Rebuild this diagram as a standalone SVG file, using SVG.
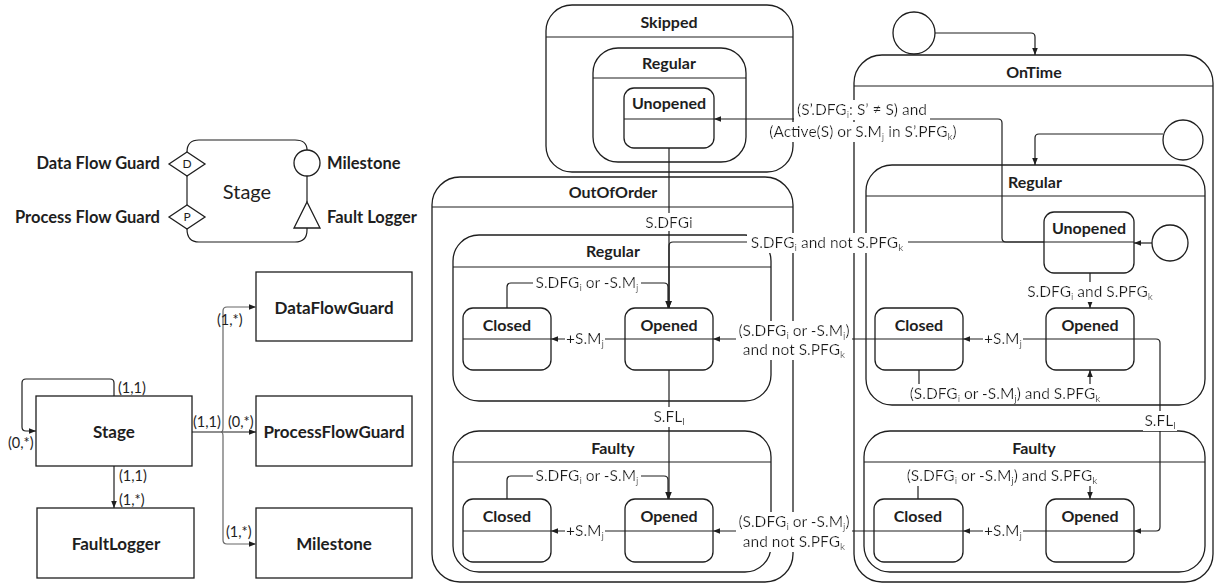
<svg xmlns="http://www.w3.org/2000/svg" width="1217" height="585" viewBox="0 0 1217 585">
  <style>
    .box { fill: #fff; stroke: #1e1e1e; stroke-width: 1.3; }
    .div { fill: none; stroke: #1e1e1e; stroke-width: 1.2; }
    .conn { fill: none; stroke: #1e1e1e; stroke-width: 1.2; }
    .gray { stroke: #666; }
    text { font-family: Lato, "Liberation Sans", sans-serif; fill: #1e1e1e; }
    .ttl { font-weight: bold; font-size: 16px; text-anchor: middle; }
    .cls { font-weight: bold; font-size: 17px; text-anchor: middle; }
    .lbl { font-size: 15.5px; text-anchor: middle; }
    .card { font-size: 14.5px; }
    .leg { font-weight: bold; font-size: 16.5px; }
    .sub { font-size: 10px; }
    .bgl { filter: url(#bg); }
  </style>
  <defs>
    <marker id="arr" viewBox="0 0 10 10" refX="10" refY="5" markerWidth="7" markerHeight="7" markerUnits="userSpaceOnUse" orient="auto">
      <path d="M0,1 L10,5 L0,9 z" fill="#1e1e1e"/>
    </marker>
    <filter id="bg" x="-0.02" y="0" width="1.04" height="1">
      <feFlood flood-color="#fff" result="f"/>
      <feComposite in="SourceGraphic" in2="f" operator="over"/>
    </filter>
  </defs>
  <rect width="1217" height="585" fill="#fff"/>

  <!-- Legend: stage symbol with guards, milestone and fault logger -->
  <g id="legend">
    <path class="div" d="M187,152 Q187,140 199,140 H295 Q307,140 307,150 M307,176 V202 M307,228 V230 Q307,242 295,242 H199 Q187,242 187,229 M187,176 V205"/>
    <polygon class="box" points="169,164 187,152 205,164 187,176"/>
    <text x="187" y="168" font-size="12" text-anchor="middle">D</text>
    <polygon class="box" points="169,217 187,205 205,217 187,229"/>
    <text x="187" y="221" font-size="12" text-anchor="middle">P</text>
    <circle class="box" cx="307" cy="163" r="13"/>
    <polygon class="box" points="307,202 320,228 294,228"/>
    <text x="247" y="199" font-size="20" text-anchor="middle">Stage</text>
    <text class="leg" x="160" y="169" text-anchor="end">Data Flow Guard</text>
    <text class="leg" x="160" y="223" text-anchor="end">Process Flow Guard</text>
    <text class="leg" x="327" y="169">Milestone</text>
    <text class="leg" x="327" y="223">Fault Logger</text>
  </g>

  <!-- Class model -->
  <g id="cls-stage"><rect class="box" x="36" y="396" width="156" height="70"/><text class="cls" x="114" y="438">Stage</text></g>
  <g id="cls-dfg"><rect class="box" x="256" y="272" width="156" height="69"/><text class="cls" x="334" y="314">DataFlowGuard</text></g>
  <g id="cls-pfg"><rect class="box" x="256" y="396" width="156" height="70"/><text class="cls" x="334" y="438">ProcessFlowGuard</text></g>
  <g id="cls-ms"><rect class="box" x="256" y="508" width="156" height="70"/><text class="cls" x="334" y="550">Milestone</text></g>
  <g id="cls-fl"><rect class="box" x="37" y="508" width="157" height="70"/><text class="cls" x="116" y="550">FaultLogger</text></g>

  <g id="cls-links">
    <path class="conn" d="M114,396 V383 Q114,379 110,379 H26 Q22,379 22,383 V427 Q22,431 26,431 H36" marker-end="url(#arr)"/>
    <path class="conn" d="M114,466 V508" marker-end="url(#arr)"/>
    <path class="conn" d="M192,432 H256" marker-end="url(#arr)"/>
    <path class="conn gray" d="M221,432 Q223,432 223,428 V311 Q223,307 227,307 H256" marker-end="url(#arr)"/>
    <path class="conn gray" d="M221,432 Q223,432 223,436 V540 Q223,544 227,544 H256" marker-end="url(#arr)"/>
    <text class="card" x="118" y="393">(1,1)</text>
    <text class="card" x="8" y="448">(0,*)</text>
    <text class="card" x="119" y="481">(1,1)</text>
    <text class="card" x="119" y="505">(1,*)</text>
    <text class="card" x="193" y="427">(1,1)</text>
    <text class="card" x="228" y="427">(0,*)</text>
    <text class="card" x="217" y="325">(1,*)</text>
    <text class="card" x="226" y="537">(1,*)</text>
  </g>

  <!-- Skipped -->
  <g id="skipped">
    <rect class="box" x="546" y="5" width="247" height="167" rx="26"/>
    <line class="div" x1="546" y1="37" x2="793" y2="37"/>
    <text class="ttl" x="669" y="28">Skipped</text>
  </g>
  <g id="skipped-regular">
    <rect class="box" x="593" y="48" width="153" height="114" rx="25"/>
    <line class="div" x1="593" y1="78" x2="746" y2="78"/>
    <text class="ttl" x="669" y="69">Regular</text>
  </g>
  <g id="skipped-unopened">
    <rect class="box" x="624" y="88" width="90" height="60" rx="10"/>
    <line class="div" x1="624" y1="119" x2="714" y2="119"/>
    <text class="ttl" x="669" y="109">Unopened</text>
  </g>

  <!-- OutOfOrder -->
  <g id="ooo">
    <rect class="box" x="432" y="177" width="361" height="405" rx="28"/>
    <line class="div" x1="432" y1="207" x2="793" y2="207"/>
    <text class="ttl" x="613" y="198">OutOfOrder</text>
  </g>
  <g id="ooo-regular">
    <rect class="box" x="453" y="235" width="318" height="166" rx="26"/>
    <line class="div" x1="453" y1="267" x2="771" y2="267"/>
    <text class="ttl" x="613" y="257">Regular</text>
  </g>
  <g id="ooo-regular-closed">
    <rect class="box" x="463" y="308" width="88" height="62" rx="10"/>
    <line class="div" x1="463" y1="339" x2="551" y2="339"/>
    <text class="ttl" x="507" y="331">Closed</text>
  </g>
  <g id="ooo-regular-opened">
    <rect class="box" x="625" y="308" width="88" height="62" rx="10"/>
    <line class="div" x1="625" y1="339" x2="713" y2="339"/>
    <text class="ttl" x="669" y="331">Opened</text>
  </g>
  <g id="ooo-faulty">
    <rect class="box" x="453" y="431" width="318" height="141" rx="26"/>
    <line class="div" x1="453" y1="462" x2="771" y2="462"/>
    <text class="ttl" x="613" y="454">Faulty</text>
  </g>
  <g id="ooo-faulty-closed">
    <rect class="box" x="463" y="499" width="88" height="63" rx="10"/>
    <line class="div" x1="463" y1="531" x2="551" y2="531"/>
    <text class="ttl" x="507" y="522">Closed</text>
  </g>
  <g id="ooo-faulty-opened">
    <rect class="box" x="625" y="499" width="88" height="63" rx="10"/>
    <line class="div" x1="625" y1="531" x2="713" y2="531"/>
    <text class="ttl" x="669" y="522">Opened</text>
  </g>

  <!-- OnTime -->
  <g id="init-top"><circle class="box" cx="914" cy="33" r="21"/></g>
  <g id="ontime">
    <rect class="box" x="854" y="55" width="359" height="527" rx="28"/>
    <line class="div" x1="854" y1="86" x2="1213" y2="86"/>
    <text class="ttl" x="1034" y="78">OnTime</text>
  </g>
  <g id="init-ontime"><circle class="box" cx="1183" cy="140" r="20"/></g>
  <g id="ontime-regular">
    <rect class="box" x="866" y="165" width="339" height="240" rx="26"/>
    <line class="div" x1="866" y1="196" x2="1205" y2="196"/>
    <text class="ttl" x="1035" y="188">Regular</text>
  </g>
  <g id="ontime-unopened">
    <rect class="box" x="1044" y="212" width="90" height="61" rx="10"/>
    <line class="div" x1="1044" y1="242" x2="1134" y2="242"/>
    <text class="ttl" x="1089" y="234">Unopened</text>
  </g>
  <g id="init-regular"><circle class="box" cx="1170" cy="243" r="18"/></g>
  <g id="ontime-regular-closed">
    <rect class="box" x="875" y="308" width="88" height="62" rx="10"/>
    <line class="div" x1="875" y1="339" x2="963" y2="339"/>
    <text class="ttl" x="919" y="331">Closed</text>
  </g>
  <g id="ontime-regular-opened">
    <rect class="box" x="1046" y="308" width="88" height="62" rx="10"/>
    <line class="div" x1="1046" y1="339" x2="1134" y2="339"/>
    <text class="ttl" x="1090" y="331">Opened</text>
  </g>
  <g id="ontime-faulty">
    <rect class="box" x="864" y="431" width="341" height="141" rx="26"/>
    <line class="div" x1="864" y1="462" x2="1205" y2="462"/>
    <text class="ttl" x="1034" y="454">Faulty</text>
  </g>
  <g id="ontime-faulty-closed">
    <rect class="box" x="874" y="499" width="89" height="63" rx="10"/>
    <line class="div" x1="874" y1="531" x2="963" y2="531"/>
    <text class="ttl" x="918" y="522">Closed</text>
  </g>
  <g id="ontime-faulty-opened">
    <rect class="box" x="1046" y="499" width="88" height="63" rx="10"/>
    <line class="div" x1="1046" y1="531" x2="1134" y2="531"/>
    <text class="ttl" x="1090" y="522">Opened</text>
  </g>

  <!-- Transitions -->
  <g id="connectors">
    <path class="conn" d="M935,33 H1031 Q1035,33 1035,37 V55" marker-end="url(#arr)"/>
    <path class="conn" d="M1163,134 H1039 Q1035,134 1035,138 V165" marker-end="url(#arr)"/>
    <path class="conn" d="M1152,243 H1134" marker-end="url(#arr)"/>
    <path class="conn" d="M1044,242 H1006 Q1002,242 1002,238 V123 Q1002,119 998,119 H714" marker-end="url(#arr)"/>
    <path class="conn" d="M1044,242 H673 Q669,242 669,246 V308" marker-end="url(#arr)"/>
    <path class="conn" d="M669,148 V308" marker-end="url(#arr)"/>
    <path class="conn" d="M1090,273 V308" marker-end="url(#arr)"/>
    <path class="conn" d="M1046,339 H963" marker-end="url(#arr)"/>
    <path class="conn" d="M919,370 V390 Q919,394 923,394 H1086 Q1090,394 1090,390 V370" marker-end="url(#arr)"/>
    <path class="conn" d="M1134,339 H1156 Q1160,339 1160,343 V527 Q1160,531 1156,531 H1134" marker-end="url(#arr)"/>
    <path class="conn" d="M875,339 H713" marker-end="url(#arr)"/>
    <path class="conn" d="M1046,531 H963" marker-end="url(#arr)"/>
    <path class="conn" d="M918,499 V480 Q918,476 922,476 H1086 Q1090,476 1090,480 V499" marker-end="url(#arr)"/>
    <path class="conn" d="M874,531 H713" marker-end="url(#arr)"/>
    <path class="conn" d="M507,308 V287 Q507,283 511,283 H664 Q668,283 668,287 V308" marker-end="url(#arr)"/>
    <path class="conn" d="M625,339 H551" marker-end="url(#arr)"/>
    <path class="conn" d="M669,370 V499" marker-end="url(#arr)"/>
    <path class="conn" d="M507,499 V480 Q507,476 511,476 H664 Q668,476 668,480 V499" marker-end="url(#arr)"/>
    <path class="conn" d="M625,531 H551" marker-end="url(#arr)"/>
  </g>

  <!-- Transition labels -->
  <g id="labels">
    <text class="lbl bgl" x="862" y="115">(S’.DFG<tspan class="sub" dy="3">i</tspan><tspan dy="-3">: S’ ≠ S) and</tspan></text>
    <text class="lbl bgl" x="863" y="137">(Active(S) or S.M<tspan class="sub" dy="3">j</tspan><tspan dy="-3"> in S’.PFG</tspan><tspan class="sub" dy="3">k</tspan><tspan dy="-3">)</tspan></text>
    <text class="lbl bgl" x="669" y="228">S.DFGi</text>
    <text class="lbl bgl" x="827" y="248">S.DFG<tspan class="sub" dy="3">i</tspan><tspan dy="-3"> and not S.PFG</tspan><tspan class="sub" dy="3">k</tspan></text>
    <text class="lbl bgl" x="587" y="288">S.DFG<tspan class="sub" dy="3">i</tspan><tspan dy="-3"> or -S.M</tspan><tspan class="sub" dy="3">j</tspan></text>
    <text class="lbl bgl" x="585" y="344">+S.M<tspan class="sub" dy="3">j</tspan></text>
    <text class="lbl bgl" x="669" y="422">S.FL<tspan class="sub" dy="3">l</tspan></text>
    <text class="lbl bgl" x="587" y="481">S.DFG<tspan class="sub" dy="3">i</tspan><tspan dy="-3"> or -S.M</tspan><tspan class="sub" dy="3">j</tspan></text>
    <text class="lbl bgl" x="585" y="536">+S.M<tspan class="sub" dy="3">j</tspan></text>
    <text class="lbl bgl" x="794" y="336">(S.DFG<tspan class="sub" dy="3">i</tspan><tspan dy="-3"> or -S.M</tspan><tspan class="sub" dy="3">j</tspan><tspan dy="-3">)</tspan></text>
    <text class="lbl bgl" x="794" y="355">and not S.PFG<tspan class="sub" dy="3">k</tspan></text>
    <text class="lbl bgl" x="794" y="527">(S.DFG<tspan class="sub" dy="3">i</tspan><tspan dy="-3"> or -S.M</tspan><tspan class="sub" dy="3">j</tspan><tspan dy="-3">)</tspan></text>
    <text class="lbl bgl" x="794" y="547">and not S.PFG<tspan class="sub" dy="3">k</tspan></text>
    <text class="lbl bgl" x="1090" y="297">S.DFG<tspan class="sub" dy="3">i</tspan><tspan dy="-3"> and S.PFG</tspan><tspan class="sub" dy="3">k</tspan></text>
    <text class="lbl bgl" x="1003" y="344">+S.M<tspan class="sub" dy="3">j</tspan></text>
    <text class="lbl bgl" x="1005" y="399">(S.DFG<tspan class="sub" dy="3">i</tspan><tspan dy="-3"> or -S.M</tspan><tspan class="sub" dy="3">j</tspan><tspan dy="-3">) and S.PFG</tspan><tspan class="sub" dy="3">k</tspan></text>
    <text class="lbl bgl" x="1160" y="426">S.FL<tspan class="sub" dy="3">l</tspan></text>
    <text class="lbl bgl" x="1002" y="481">(S.DFG<tspan class="sub" dy="3">i</tspan><tspan dy="-3"> or -S.M</tspan><tspan class="sub" dy="3">j</tspan><tspan dy="-3">) and S.PFG</tspan><tspan class="sub" dy="3">k</tspan></text>
    <text class="lbl bgl" x="1003" y="536">+S.M<tspan class="sub" dy="3">j</tspan></text>
  </g>
</svg>
